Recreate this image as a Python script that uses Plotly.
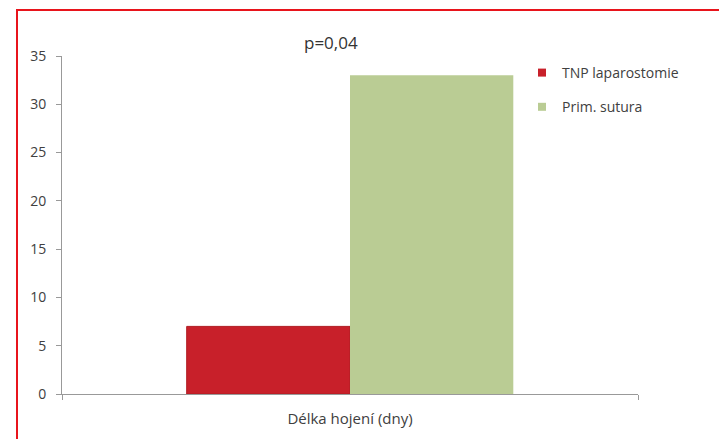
import plotly.graph_objects as go

categories = ["Délka hojení (dny)"]
series_names = ["TNP laparostomie", "Prim. sutura"]
tnp_values = [7]
prim_values = [33]
title_text = "p=0,04"
colors = ["#C8202A", "#BACC94"]

W, H = 719, 439
L, R, T, B = 62, 81, 56, 45
pw, ph = W - L - R, H - T - B

def px_x(x):
    return (x - L) / pw

def px_y(y):
    return (H - B - y) / ph

fig = go.Figure()
fig.add_trace(go.Bar(x=categories, y=tnp_values, name=series_names[0],
                     marker=dict(color=colors[0], line=dict(color="#B01C22", width=1)),
                     showlegend=False))
fig.add_trace(go.Bar(x=categories, y=prim_values, name=series_names[1],
                     marker=dict(color=colors[1], line=dict(width=0)),
                     showlegend=False))
# legend entries with small square swatches
for i, (nm, c) in enumerate(zip(series_names, colors)):
    fig.add_trace(go.Scatter(x=[None], y=[None], mode="markers", name=nm,
                             marker=dict(symbol="square", size=8, color=c),
                             legendgroup=str(i), showlegend=True))

fig.update_layout(
    width=W, height=H,
    margin=dict(l=L, r=R, t=T, b=B),
    paper_bgcolor="white", plot_bgcolor="white",
    barmode="group", bargap=0.433, bargroupgap=0,
    font=dict(family="Open Sans", size=14, color="#404040"),
    showlegend=True,
    legend=dict(x=px_x(522), y=px_y(57), xanchor="left", yanchor="top",
                traceorder="grouped", tracegroupgap=13,
                font=dict(size=14, color="#404040"),
                itemwidth=30, bgcolor="rgba(0,0,0,0)"),
    xaxis=dict(showline=True, linecolor="#999999", linewidth=1,
               ticks="outside", tickson="boundaries", ticklen=5, tickcolor="#999999",
               ticklabelstandoff=11,
               tickfont=dict(size=15, color="#404040"), showgrid=False),
    yaxis=dict(range=[0, 35], dtick=5, showline=True, linecolor="#999999", linewidth=1,
               ticks="outside", ticklen=5, tickcolor="#999999", showgrid=False,
               ticklabelstandoff=7,
               zeroline=False, tickfont=dict(size=14, color="#404040")),
)

fig.add_annotation(text=title_text, x=px_x(331), y=px_y(42), xref="paper", yref="paper",
                   xanchor="center", yanchor="middle",
                   showarrow=False, font=dict(size=17, color="#333333"))

fig.add_shape(type="rect", xref="paper", yref="paper",
              x0=px_x(17), x1=px_x(725), y0=px_y(445), y1=px_y(10),
              line=dict(color="#E8141C", width=2), fillcolor="rgba(0,0,0,0)", layer="above")

fig.write_html("out.html")
